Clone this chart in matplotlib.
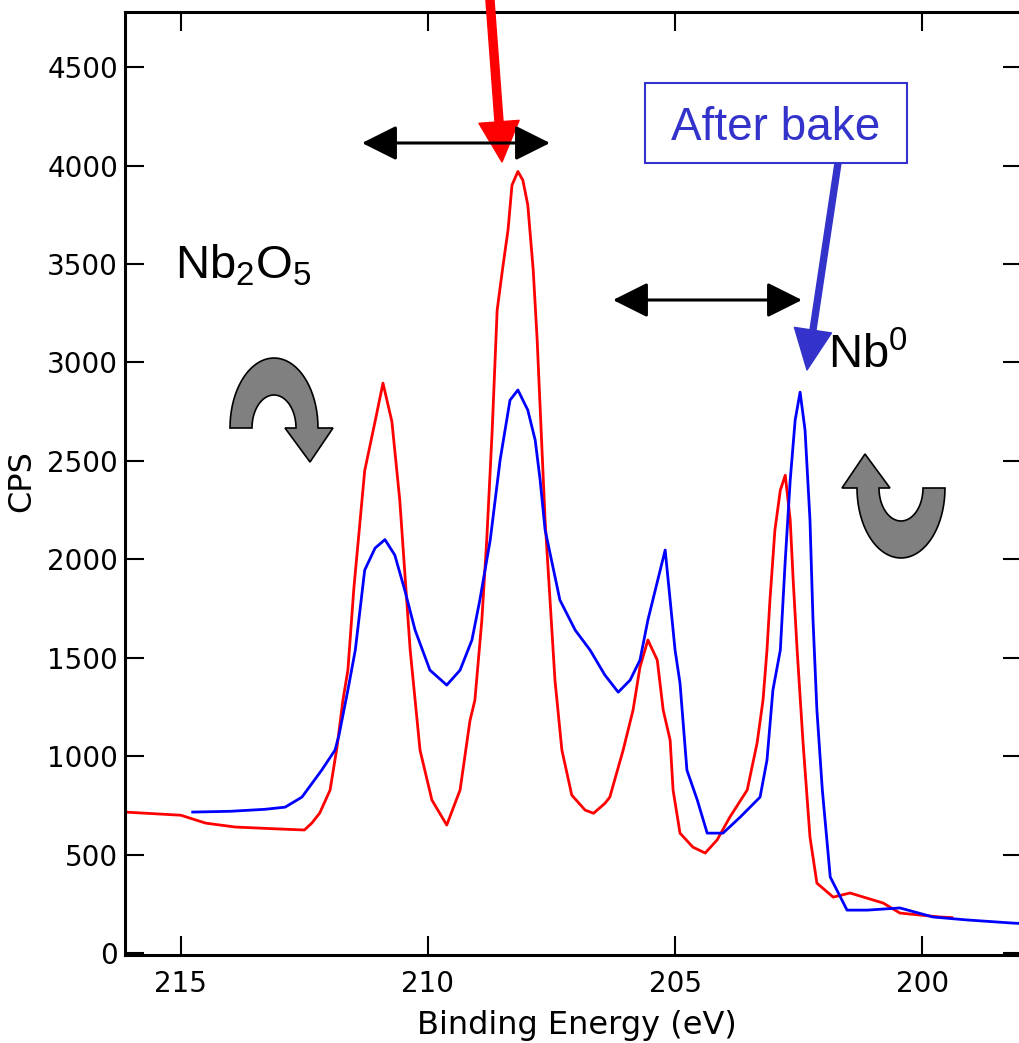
import matplotlib
matplotlib.use('Agg')
import matplotlib.pyplot as plt
from matplotlib.patches import Polygon, Rectangle, FancyArrowPatch
import numpy as np

plt.rcParams['mathtext.fontset'] = 'custom'
plt.rcParams['mathtext.rm'] = 'Liberation Sans'

## Nb 3d spectra, red = before bake, blue = after bake
red_ev = [216.13, 215.0, 214.5, 213.9, 213.0, 212.5, 212.35, 212.19, 211.98, 211.84,
          211.72, 211.62, 211.5, 211.28, 211.07, 210.91, 210.73, 210.57, 210.36, 210.16,
          209.92, 209.62, 209.35, 209.15, 209.05, 208.91, 208.81, 208.70, 208.60, 208.48,
          208.38, 208.30, 208.18, 208.08, 207.98, 207.87, 207.79, 207.71, 207.63, 207.53,
          207.43, 207.29, 207.09, 206.82, 206.65, 206.42, 206.32, 206.05, 205.85, 205.71,
          205.55, 205.36, 205.24, 205.10, 205.04, 204.90, 204.64, 204.39, 204.15, 203.89,
          203.54, 203.34, 203.22, 203.14, 203.08, 202.98, 202.87, 202.77, 202.67, 202.61,
          202.53, 202.41, 202.27, 202.13, 201.80, 201.46, 200.79, 200.45, 199.64, 199.4]
red_cps = [716, 700, 660, 640, 630, 625, 660, 711, 828, 1046,
           1285, 1437, 1850, 2450, 2700, 2895, 2700, 2300, 1540, 1030,
           777, 650, 828, 1180, 1285, 1690, 2100, 2656, 3265, 3494,
           3672, 3900, 3970, 3926, 3800, 3469, 3113, 2656, 2199, 1793,
           1386, 1031, 802, 726, 710, 760, 792, 1031, 1234, 1452,
           1590, 1488, 1234, 1082, 828, 609, 538, 508, 574, 691,
           828, 1067, 1285, 1539, 1793, 2148, 2351, 2427, 2199, 1894,
           1539, 1067, 589, 355, 284, 305, 254, 203, 183, 180]

blue_ev = [214.76, 214.0, 213.3, 212.89, 212.55, 212.15, 211.88, 211.8, 211.62, 211.47,
           211.28, 211.07, 210.87, 210.67, 210.47, 210.26, 209.96, 209.62, 209.35, 209.11,
           208.95, 208.74, 208.54, 208.34, 208.18, 207.98, 207.83, 207.73, 207.63, 207.33,
           207.02, 206.72, 206.42, 206.15, 205.91, 205.71, 205.55, 205.40, 205.20, 205.00,
           204.90, 204.76, 204.55, 204.35, 204.03, 203.68, 203.28, 203.14, 203.02, 202.87,
           202.77, 202.67, 202.57, 202.47, 202.37, 202.27, 202.21, 202.13, 202.02, 201.86,
           201.52, 201.11, 200.45, 199.78, 199.09, 198.16, 197.98]
blue_cps = [716, 720, 730, 741, 792, 929, 1031, 1107, 1336, 1539,
            1945, 2057, 2100, 2021, 1844, 1640, 1437, 1361, 1437, 1590,
            1793, 2098, 2504, 2808, 2860, 2758, 2605, 2402, 2150, 1793,
            1640, 1539, 1412, 1325, 1386, 1488, 1691, 1844, 2047, 1539,
            1371, 929, 777, 609, 609, 691, 792, 980, 1336, 1539,
            1996, 2402, 2707, 2849, 2656, 2199, 1700, 1234, 828, 386,
            218, 218, 229, 183, 168, 152, 150]

x_ticks = [215, 210, 205, 200]
y_ticks = [0, 500, 1000, 1500, 2000, 2500, 3000, 3500, 4000, 4500]

W, H = 1019, 1043


def fpos(x, y):
    # picture pixel (y down) -> figure fraction
    return (x / W, 1 - y / H)


fig = plt.figure(figsize=(W / 100, H / 100), dpi=100)
ax = fig.add_axes([125 / W, 1 - 955 / H, (1022 - 125) / W, (955 - 12) / H])

ax.plot(red_ev, red_cps, color='#ff0000', lw=2)
ax.plot(blue_ev, blue_cps, color='#0000ff', lw=2)

ax.set_xlim(216.13, 197.98)
ax.set_ylim(-10, 4780)
ax.set_xticks(x_ticks)
ax.set_yticks(y_ticks)
ax.tick_params(direction='in', top=True, right=True, length=14, width=1.5,
               labelsize=20)
ax.tick_params(axis='x', pad=11)
ax.tick_params(axis='y', pad=5)
for sp in ax.spines.values():
    sp.set_linewidth(2.2)

ax.set_xlabel('Binding Energy (eV)', fontsize=23)
ax.xaxis.set_label_coords(0.504, -0.058)
ax.set_ylabel('CPS', fontsize=23)
ax.yaxis.set_label_coords(-0.098, 0.503)

## annotations
fig.text(*fpos(175, 278), r'Nb$_\mathrm{2}$O$_\mathrm{5}$', fontsize=34,
         family='Liberation Sans', ha='left', va='baseline')
fig.text(*fpos(828, 368), r'Nb$^\mathrm{0}$', fontsize=34,
         family='Liberation Sans', ha='left', va='baseline')

box = Rectangle(fpos(645, 163), (907 - 645) / W, (163 - 83) / H,
                transform=fig.transFigure, fc='white', ec='#3333cc', lw=1.5)
fig.add_artist(box)
fig.text(*fpos(776, 140), 'After bake', fontsize=33, color='#3333cc',
         family='Liberation Sans', ha='center', va='baseline')

red_arrow = FancyArrowPatch(fpos(487, -40), fpos(502, 162), transform=fig.transFigure,
                            arrowstyle='simple,head_length=29,head_width=29,tail_width=5.8',
                            mutation_scale=1, color='#ff0000', shrinkA=0, shrinkB=0)
fig.add_artist(red_arrow)
blue_arrow = FancyArrowPatch(fpos(838, 163), fpos(807, 370), transform=fig.transFigure,
                             arrowstyle='simple,head_length=29,head_width=27,tail_width=4.3',
                             mutation_scale=1, color='#3333cc', shrinkA=0, shrinkB=0)
fig.add_artist(blue_arrow)

for x0, x1, y in [(362, 550, 143), (613, 802, 300)]:
    dbl = FancyArrowPatch(fpos(x0, y), fpos(x1, y), transform=fig.transFigure,
                          arrowstyle='<|-|>,head_length=21.6,head_width=10.8',
                          mutation_scale=1, color='black', lw=2.2,
                          shrinkA=0, shrinkB=0)
    fig.add_artist(dbl)


def curl(cx, cy, s):
    t = np.linspace(np.pi, 0, 40)
    outer = np.c_[44 * np.cos(t), -70 * np.sin(t)]
    inner = np.c_[22 * np.cos(t), -33 * np.sin(t)][::-1]
    head = np.array([[59, 0], [36, 34], [11, 0]])
    pts = np.vstack([outer, head, inner]) * s + [cx, cy]
    pts = np.array([fpos(p[0], p[1]) for p in pts])
    return Polygon(pts, closed=True, transform=fig.transFigure,
                   fc='#808080', ec='black', lw=1.2)


fig.add_artist(curl(274, 428, 1))
fig.add_artist(curl(901, 488, -1))

plt.savefig('out.png', dpi=100)
